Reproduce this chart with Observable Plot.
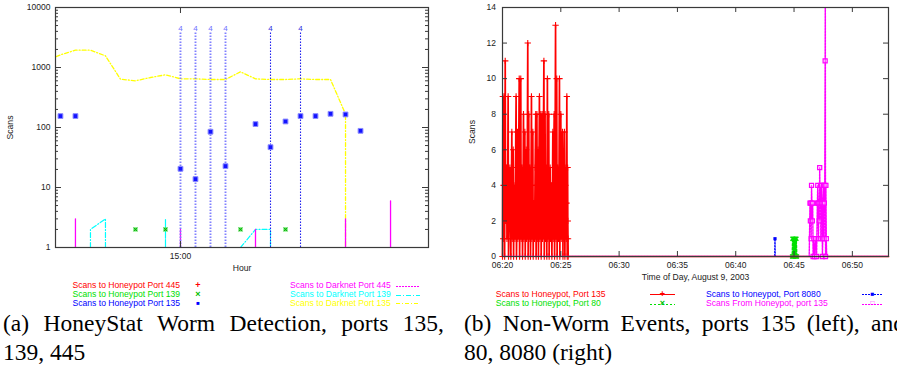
<!DOCTYPE html>
<html><head><meta charset="utf-8">
<script src="https://cdn.jsdelivr.net/npm/d3@7"></script>
<script src="https://cdn.jsdelivr.net/npm/@observablehq/plot@0.6"></script>
<style>
body{margin:0;background:#fff}
#page{position:relative;width:897px;height:366px;overflow:hidden;background:#fff;font-family:"Liberation Sans",Arial,sans-serif}
#page svg{position:absolute;overflow:visible}
.leg{position:absolute;font-size:8.6px;line-height:8.7px;height:8.7px;white-space:nowrap}
.mk{position:absolute;font-size:9px;line-height:8.7px;height:8.7px;width:10px;text-align:center;font-weight:bold}
.smp{position:absolute;height:1px}
.cap{position:absolute;font-family:"Liberation Serif","Times New Roman",serif;font-size:23.5px;line-height:29.5px;white-space:nowrap;color:#000}
.just{text-align:justify;text-align-last:justify;white-space:normal;width:441px}
</style></head><body><div id="page"></div>
<script>
// ---------- Panel (a): HoneyStat worm detection (x = hours relative to 15:00) ----------
const darknet135Hours = [-9,-8,-7,-6,-5,-4,-3,-2,-1,0,1,2,3,4,5,6,7,8,9,10,11];
const darknet135Scans = [1276,1625,1944,1944,1565,640,600,681,755,647,647,631,631,847,647,631,631,647,631,631,167];
const darknet139Hours = [-6,-5,-1,4,5,6];
const darknet139Scans = [2,3,3,1,2,2];
const darknet445Hours = [-7,0,5,11,14];
const darknet445Scans = [3,2,2,3,6];
const honeypot135Hours = [-8,-7,0,1,2,3,5,6,7,8,9,10,11,12];
const honeypot135Scans = [155,155,20.5,13.8,85,22.7,114,47,126,155,155,169,165,88];
const honeypot139Hours = [-3,-1,4,7];
const honeypot139Scans = [2,2,2,2];
const alertHours = [0,1,2,3,6,8];
const alertTop = 3800;
const hourTicks = [0];
const hourTickLabels = ["15:00"];
const logTicks = [1,10,100,1000,10000];
const logMinor = [2,3,4,5,6,7,8,9,20,30,40,50,60,70,80,90,200,300,400,500,600,700,800,900,2000,3000,4000,5000,6000,7000,8000,9000];

// ---------- Panel (b): non-worm events (t = seconds after 06:20:00) ----------
const hp135 = [[0,0],[2,9],[4,1],[6,4],[9,9],[11,0],[14,11],[16,2],[18,5],[21,5],[23,1],[26,3],[29,9],[31,0],[34,4],[38,5],[40,2],[43,0],[48,7],[50,1],[52,3],[55,6],[57,0],[59,4],[62,3],[64,1],[67,5],[70,9],[72,0],[74,2],[77,7],[79,1],[82,4],[86,10],[88,0],[91,3],[94,10],[96,1],[98,5],[101,5],[103,0],[105,2],[108,8],[110,1],[112,4],[115,7],[117,0],[119,3],[122,6],[124,1],[127,4],[130,12],[132,0],[133,3],[135,8],[137,1],[139,5],[142,5],[144,0],[146,2],[149,9],[151,1],[153,4],[156,7],[158,0],[160,3],[163,3],[165,1],[168,5],[171,8],[173,0],[175,4],[177,8],[179,1],[181,3],[183,6],[185,0],[187,4],[190,9],[192,1],[194,5],[197,8],[199,0],[201,3],[204,8],[206,1],[209,4],[213,11],[215,0],[217,5],[219,8],[221,1],[223,3],[226,5],[228,0],[229,4],[231,10],[233,1],[235,5],[238,8],[240,0],[242,3],[245,5],[247,1],[249,4],[252,4],[254,0],[256,2],[259,7],[261,1],[263,5],[266,8],[268,0],[270,4],[273,13],[275,1],[277,4],[279,10],[281,0],[283,5],[286,5],[288,1],[290,3],[293,10],[295,0],[297,4],[300,8],[302,1],[305,5],[309,7],[311,0],[312,3],[314,4],[316,1],[317,5],[319,7],[321,0],[323,4],[326,5],[328,1],[329,3],[331,9],[333,0],[335,5],[336,2],[337,1],[338,0],[1986,0]];
const hp8080 = [[0,0],[1400,0],[1402,1],[1404,0],[1986,0]];
const hp80 = [[0,0],[1490,0],[1492,1],[1495,0],[1497,1],[1500,0],[1502,1],[1505,0],[1507,1],[1510,0],[1512,1],[1515,0],[1986,0]];
const from135 = [[0,0],[1578,0],[1582,3],[1584,2],[1586,3],[1588,1],[1590,4],[1592,3],[1594,2],[1596,3],[1598,0],[1602,1],[1606,0],[1612,1],[1616,0],[1620,3],[1622,4],[1624,3],[1626,1],[1628,3],[1630,2],[1632,5],[1634,3],[1636,4],[1638,1],[1640,3],[1642,4],[1644,3],[1646,0],[1648,1],[1650,3],[1652,4],[1654,1],[1656,3],[1658,4],[1660,11],[1661,16],[1662,0],[1664,4],[1666,1],[1668,0],[1986,0]];
const timeTicks = [0,300,600,900,1200,1500,1800];
const scanTicks = [0,2,4,6,8,10,12,14];

// ---------- helpers ----------
function dropRuns(xs, vs, floor) {
  const out = []; let run = -1;
  for (let i = 0; i < xs.length; i++) {
    if (i === 0 || xs[i] - xs[i-1] > 1) {
      if (i > 0) out.push({x: xs[i-1], y: floor, run});
      run++;
      out.push({x: xs[i], y: floor, run});
    }
    out.push({x: xs[i], y: vs[i], run});
  }
  out.push({x: xs[xs.length-1], y: floor, run});
  return out;
}
function frameTicks(xT, yT, fw, fh, len, stroke) {
  return [
    Plot.tickY(yT, {y: d => d, insetRight: fw - len, stroke}),
    Plot.tickY(yT, {y: d => d, insetLeft: fw - len, stroke}),
    Plot.tickX(xT, {x: d => d, insetBottom: fh - len, stroke}),
    Plot.tickX(xT, {x: d => d, insetTop: fh - len, stroke})
  ];
}
const zip = (xs, vs) => xs.map((x, i) => ({x, y: vs[i]}));
const pairs = a => a.map(([t, v]) => ({t, v}));
const axisStyle = {fontFamily: "'Liberation Sans', Arial, sans-serif", fontSize: "8.5px", color: "#222", background: "transparent", overflow: "visible"};
const frameColor = "#3a3a3a";

const page = document.getElementById("page");

// ---------- Panel (a) ----------
const aW = 373, aH = 240;
const chartA = Plot.plot({
  width: 440, height: 275, marginLeft: 55, marginRight: 12, marginTop: 7, marginBottom: 28,
  style: axisStyle,
  x: {domain: [-8.33, 16.53], label: null},
  y: {type: "log", domain: [1, 10000], label: null},
  marks: [
    Plot.line(dropRuns(darknet135Hours, darknet135Scans, 1), {x: "x", y: "y", z: "run", stroke: "#ffff00", strokeWidth: 1.3, strokeDasharray: "4,2,1,2", clip: true}),
    Plot.line(dropRuns(darknet139Hours, darknet139Scans, 1), {x: "x", y: "y", z: "run", stroke: "#00ffff", strokeWidth: 1.2, strokeDasharray: "5,2,1,2", clip: true}),
    Plot.line(dropRuns(darknet445Hours, darknet445Scans, 1), {x: "x", y: "y", z: "run", stroke: "#ff00ff", strokeWidth: 1.3, strokeDasharray: "2,1", clip: true}),
    Plot.ruleX(alertHours, {x: d => d, y1: 1, y2: alertTop, stroke: d => d <= 3 ? "#8080ff" : "#2020f0", strokeWidth: d => d <= 3 ? 1.9 : 1.1, strokeDasharray: "1.5,1.5"}),
    Plot.text(alertHours, {x: d => d, y: 4400, text: () => "4", fill: d => d <= 3 ? "#7070ff" : "#3030e0", fontSize: 8}),
    Plot.dot(zip(honeypot139Hours, honeypot139Scans), {x: "x", y: "y", symbol: "square", r: 2.3, fill: "#44ee44"}),
    Plot.dot(zip(honeypot139Hours, honeypot139Scans), {x: "x", y: "y", symbol: "times", r: 1.8, stroke: "#1c9a1c", strokeWidth: 1}),
    Plot.dot(zip(honeypot135Hours, honeypot135Scans), {x: "x", y: "y", symbol: "square", r: 2.7, fill: "#1414ff", stroke: "#8c8cff", strokeWidth: 1}),
    Plot.frame({stroke: frameColor, strokeWidth: 1.2}),
    ...frameTicks(hourTicks, logTicks, aW, aH, 6, frameColor),
    Plot.tickY(logMinor, {y: d => d, insetRight: aW - 3, stroke: frameColor}),
    Plot.tickY(logMinor, {y: d => d, insetLeft: aW - 3, stroke: frameColor}),
    Plot.axisY(logTicks, {tickSize: 0, tickPadding: 5, tickFormat: d => String(d), label: null}),
    Plot.axisX(hourTicks, {tickSize: 0, tickPadding: 5, tickFormat: (d, i) => hourTickLabels[i], label: null}),
    Plot.text(["Scans"], {frameAnchor: "left", dx: -45, rotate: -90, textAnchor: "middle", lineAnchor: "middle", fontSize: 8.6, fill: "#222"}),
    Plot.text(["Hour"], {frameAnchor: "bottom", dy: 21, textAnchor: "middle", lineAnchor: "middle", fontSize: 8.6, fill: "#222"})
  ]
});
chartA.style.left = "0px"; chartA.style.top = "0px";
page.appendChild(chartA);

// ---------- Panel (b) ----------
const bW = 386, bH = 249;
const tfmt = t => "06:" + String(20 + t / 60);
const chartB = Plot.plot({
  width: 447, height: 285, marginLeft: 52, marginRight: 9, marginTop: 7, marginBottom: 29,
  style: axisStyle,
  x: {domain: [0, 1986], label: null},
  y: {domain: [0, 14], label: null},
  marks: [
    Plot.line(pairs(hp8080), {x: "t", y: "v", stroke: "#0000ff", strokeWidth: 1, strokeDasharray: "1.5,1.5"}),
    Plot.dot(pairs(hp8080).filter(d => d.v > 0), {x: "t", y: "v", symbol: "square", r: 1.8, fill: "#0000ff"}),
    Plot.line(pairs(hp80), {x: "t", y: "v", stroke: "#00e000", strokeWidth: 1.2, strokeDasharray: "2.5,1.5"}),
    Plot.dot(pairs(hp80).slice(1, -1), {x: "t", y: "v", symbol: "times", r: 2, stroke: "#00e000", strokeWidth: 1.4}),
    Plot.line(pairs(hp135), {x: "t", y: "v", stroke: "#ff0000", strokeWidth: 1.7}),
    Plot.dot(pairs(hp135).slice(0, -1), {x: "t", y: "v", symbol: "plus", r: 2.2, stroke: "#ff0000", strokeWidth: 1.1}),
    Plot.line(pairs(from135), {x: "t", y: "v", stroke: "#ff00ff", strokeWidth: 1.4, strokeDasharray: "2,1", clip: true}),
    Plot.dot(pairs(from135).slice(2, -2).filter(d => d.v <= 14), {x: "t", y: "v", symbol: "square", r: 2.3, stroke: "#ff00ff", fill: "white", fillOpacity: 0.3, strokeWidth: 1.2}),
    Plot.frame({stroke: frameColor, strokeWidth: 1.2}),
    ...frameTicks(timeTicks, scanTicks, bW, bH, 5, frameColor),
    Plot.axisY(scanTicks, {tickSize: 0, tickPadding: 6.5, label: null}),
    Plot.axisX(timeTicks, {tickSize: 0, tickPadding: 5.5, tickFormat: tfmt, label: null}),
    Plot.text(["Scans"], {frameAnchor: "left", dx: -30, rotate: -90, textAnchor: "middle", lineAnchor: "middle", fontSize: 8.6, fill: "#222"}),
    Plot.text(["Time of Day, August 9, 2003"], {frameAnchor: "bottom", dy: 20.9, textAnchor: "middle", lineAnchor: "middle", fontSize: 8.6, fill: "#222"})
  ]
});
chartB.style.left = "450px"; chartB.style.top = "0px";
page.appendChild(chartB);

// ---------- Legends ----------
const legendALeft = [
  {label: "Scans to Honeypot Port 445", color: "#ff0000", mark: "+", mcolor: "#ff0000"},
  {label: "Scans to Honeypot Port 139", color: "#00e000", mark: "×", mcolor: "#00c000"},
  {label: "Scans to Honeypot Port 135", color: "#0000ff", mark: "■", mcolor: "#0000ff"}
];
const legendARight = [
  {label: "Scans to Darknet Port 445", color: "#ff00ff", bg: "repeating-linear-gradient(to right,#ff00ff 0 2px,transparent 2px 3px)"},
  {label: "Scans to Darknet Port 139", color: "#00ffff", bg: "repeating-linear-gradient(to right,#00ffff 0 5px,transparent 5px 7px,#00ffff 7px 8px,transparent 8px 10px)"},
  {label: "Scans to Darknet Port 135", color: "#ffff00", bg: "repeating-linear-gradient(to right,#ffff00 0 4px,transparent 4px 6px,#ffff00 6px 7px,transparent 7px 9px)"}
];
function add(html) { const d = document.createElement("div"); d.innerHTML = html; page.appendChild(d.firstChild); }
legendALeft.forEach((e, i) => {
  const top = 281.3 + i * 8.7;
  add(`<div class="leg" style="left:0;width:180px;text-align:right;top:${top}px;color:${e.color}">${e.label}</div>`);
  add(`<div class="mk" style="left:193px;top:${top}px;color:${e.mcolor};font-size:${i === 2 ? 6 : 9}px">${e.mark}</div>`);
});
legendARight.forEach((e, i) => {
  const top = 281.3 + i * 8.7;
  add(`<div class="leg" style="left:290px;top:${top}px;color:${e.color}">${e.label}</div>`);
  add(`<div class="smp" style="left:396px;width:24px;top:${top + 4.5}px;background:${e.bg}"></div>`);
});
const legendB = [
  {label: "Scans to Honeypot, Port 135", color: "#ff0000", x: 495.7, sx: 650, sw: 25, bg: "#ff0000", mark: "+", mc: "#ff0000", row: 0},
  {label: "Scans to Honeypot, Port 80", color: "#00e000", x: 495.7, sx: 650, sw: 25, bg: "repeating-linear-gradient(to right,#00e000 0 2.5px,transparent 2.5px 4px)", mark: "×", mc: "#00c000", row: 1},
  {label: "Scans to Honeypot, Port 8080", color: "#0000ff", x: 706, sx: 861.7, sw: 21.3, bg: "repeating-linear-gradient(to right,#0000ff 0 1.5px,transparent 1.5px 3px)", mark: "■", mc: "#0000ff", row: 0},
  {label: "Scans From Honeypot, port 135", color: "#ff00ff", x: 706, sx: 861.7, sw: 21.3, bg: "repeating-linear-gradient(to right,#ff00ff 0 2px,transparent 2px 3px)", mark: "□", mc: "#ff00ff", row: 1}
];
legendB.forEach(e => {
  const top = 289.6 + e.row * 9.3;
  add(`<div class="leg" style="left:${e.x}px;top:${top}px;color:${e.color}">${e.label}</div>`);
  add(`<div class="smp" style="left:${e.sx}px;width:${e.sw}px;top:${top + 4.6}px;background:${e.bg}"></div>`);
  add(`<div class="mk" style="left:${e.sx + e.sw / 2 - 5}px;top:${top}px;color:${e.mc};font-size:${e.mark === "■" || e.mark === "□" ? 6.5 : 9}px">${e.mark}</div>`);
});

// ---------- Captions ----------
const captionA = ["(a) HoneyStat Worm Detection, ports 135,", "139, 445"];
const captionB = ["(b) Non-Worm Events, ports 135 (left), and", "80, 8080 (right)"];
add(`<div class="cap just" style="left:3px;top:308.8px">${captionA[0]}</div>`);
add(`<div class="cap" style="left:3px;top:338.3px">${captionA[1]}</div>`);
add(`<div class="cap just" style="left:464px;top:308.8px">${captionB[0]}</div>`);
add(`<div class="cap" style="left:464px;top:338.3px">${captionB[1]}</div>`);
</script></body></html>
